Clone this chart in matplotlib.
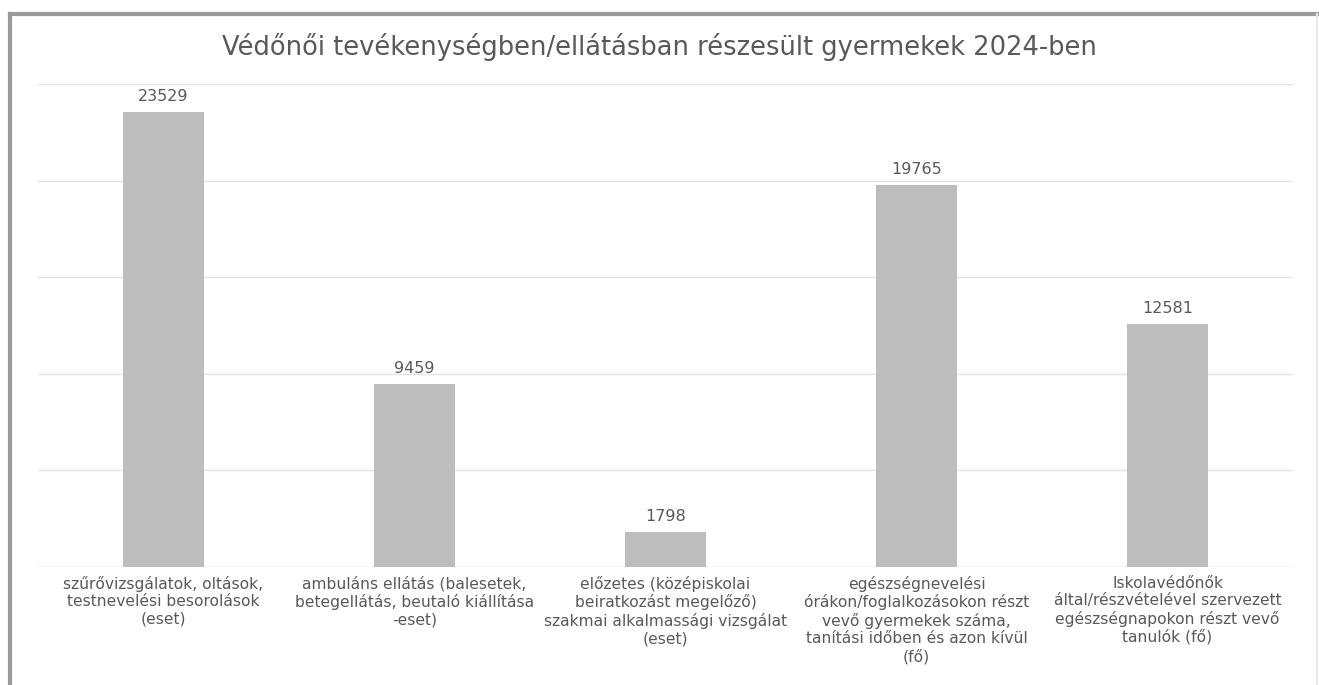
import matplotlib
matplotlib.use("Agg")
import matplotlib.pyplot as plt
from matplotlib.lines import Line2D

categories = [
    "szűrővizsgálatok, oltások,\ntestnevelési besorolások\n(eset)",
    "ambuláns ellátás (balesetek,\nbetegellátás, beutaló kiállítása\n-eset)",
    "előzetes (középiskolai\nbeiratkozást megelőző)\nszakmai alkalmassági vizsgálat\n(eset)",
    "egészségnevelési\nórákon/foglalkozásokon részt\nvevő gyermekek száma,\ntanítási időben és azon kívül\n(fő)",
    "Iskolavédőnők\náltal/részvételével szervezett\negészségnapokon részt vevő\ntanulók (fő)",
]
values = [23529, 9459, 1798, 19765, 12581]
title = "Védőnői tevékenységben/ellátásban részesült gyermekek 2024-ben"

plt.rcParams["font.family"] = ["DejaVu Sans"]
text_color = "#595959"

W, H = 1319, 685
fig = plt.figure(figsize=(W / 100, H / 100), dpi=100)
ax = fig.add_axes([38 / W, 118 / H, 1255 / W, 483 / H])

x = range(len(values))
bars = ax.bar(x, values, width=0.32, color="#bdbdbd", zorder=2)
for b, v in zip(bars, values):
    ax.annotate(str(v), (b.get_x() + b.get_width() / 2, v),
                xytext=(0, 6), textcoords="offset points",
                ha="center", va="bottom", fontsize=11.5, color=text_color)

ax.set_xlim(-0.5, len(values) - 0.5)
ax.set_ylim(0, 25000)
ax.set_yticks(range(0, 25001, 5000))
ax.yaxis.grid(True, color="#e4e4e4", linewidth=1, zorder=0)
ax.tick_params(axis="y", left=False, labelleft=False)
ax.tick_params(axis="x", bottom=False, pad=3)
ax.set_xticks(list(x))
ax.set_xticklabels(categories, fontsize=11.2, color=text_color, linespacing=1.19)
for s in ax.spines.values():
    s.set_visible(False)
ax.axhline(0, color="#e4e4e4", linewidth=1, zorder=1)

fig.text(0.5, 1 - 47 / H, title, ha="center", va="center",
         fontsize=18.5, color=text_color)

# frame edges
fig.add_artist(Line2D([10 / W, 1], [1 - 13.5 / H] * 2, color="#9a9a9a", linewidth=3))
fig.add_artist(Line2D([10 / W] * 2, [0, 1 - 13.5 / H], color="#9a9a9a", linewidth=3))
fig.add_artist(Line2D([1317 / W] * 2, [0, 1 - 13.5 / H], color="#e8e8e8", linewidth=1.5))

fig.savefig("out.png", dpi=100)
